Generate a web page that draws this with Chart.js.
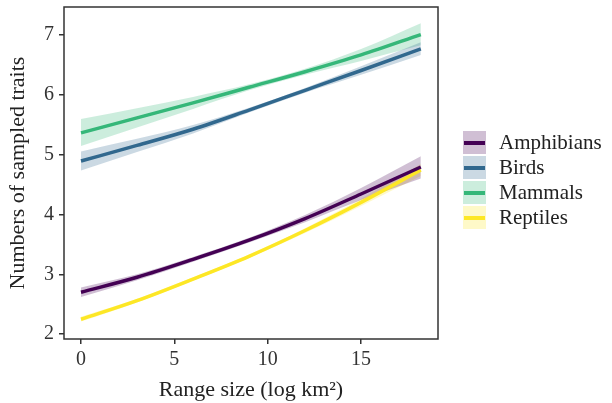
<!DOCTYPE html>
<html>
<head>
<meta charset="utf-8">
<script src="https://cdn.jsdelivr.net/npm/chart.js@4/dist/chart.umd.min.js"></script>
<style>
  body { margin: 0; background: #fff; }
  #wrap { position: relative; width: 612px; height: 403px; }
  #legend { position: absolute; left: 463px; top: 130px; font-family: "Liberation Serif", serif; font-size: 21px; color: #222; }
  .row { display: flex; align-items: center; height: 25px; }
  .key { position: relative; width: 23px; height: 23px; margin-right: 13px; }
  .key span { position: absolute; left: 1px; right: 1px; top: 10px; height: 3.5px; }
</style>
</head>
<body>
<div id="wrap">
  <canvas id="myChart" width="612" height="403"></canvas>
  <div id="legend"></div>
</div>
<script>
// range size (log km2) where the fitted curves were read
const rangeSize = [0, 3, 6, 9, 12, 15, 18.2];

const names = ["Amphibians", "Birds", "Mammals", "Reptiles"];
const colors = ["#440154", "#31688e", "#35b779", "#fde725"];
const bands = ["rgba(68,1,84,0.25)", "rgba(49,104,142,0.25)", "rgba(53,183,121,0.25)", "rgba(253,231,37,0.25)"];

// fitted values
const amphibians = [2.70, 2.95, 3.25, 3.57, 3.93, 4.34, 4.79];
const birds = [4.89, 5.15, 5.42, 5.74, 6.07, 6.40, 6.76];
const mammals = [5.36, 5.61, 5.86, 6.12, 6.38, 6.66, 7.00];
const reptiles = [2.25, 2.56, 2.92, 3.30, 3.73, 4.20, 4.74];

// confidence band edges
const amphibiansUpper = [2.78, 3.00, 3.29, 3.61, 3.99, 4.44, 4.97];
const amphibiansLower = [2.62, 2.90, 3.21, 3.53, 3.87, 4.24, 4.60];
const birdsUpper = [5.05, 5.26, 5.49, 5.78, 6.11, 6.47, 6.87];
const birdsLower = [4.73, 5.04, 5.35, 5.70, 6.03, 6.33, 6.66];
const mammalsUpper = [5.59, 5.77, 5.96, 6.17, 6.43, 6.76, 7.19];
const mammalsLower = [5.14, 5.45, 5.76, 6.07, 6.33, 6.56, 6.82];
const reptilesUpper = [2.29, 2.59, 2.95, 3.33, 3.77, 4.26, 4.84];
const reptilesLower = [2.21, 2.53, 2.89, 3.27, 3.69, 4.14, 4.64];

const xTicks = [0, 5, 10, 15];
const yTicks = [2, 3, 4, 5, 6, 7];

const fits = [amphibians, birds, mammals, reptiles];
const uppers = [amphibiansUpper, birdsUpper, mammalsUpper, reptilesUpper];
const lowers = [amphibiansLower, birdsLower, mammalsLower, reptilesLower];

const pts = (arr) => arr.map((v, i) => ({ x: rangeSize[i], y: v }));

const datasets = [];
// lines first so they sit on top
fits.forEach((arr, i) => {
  datasets.push({
    label: names[i],
    data: pts(arr),
    borderColor: colors[i],
    borderWidth: 3.5,
    pointRadius: 0,
    fill: false,
    order: 0,
  });
});
uppers.forEach((arr, i) => {
  datasets.push({
    label: names[i] + " upper",
    data: pts(arr),
    borderWidth: 0,
    pointRadius: 0,
    backgroundColor: bands[i],
    fill: "+1",
    order: 1,
  });
  datasets.push({
    label: names[i] + " lower",
    data: pts(lowers[i]),
    borderWidth: 0,
    pointRadius: 0,
    fill: false,
    order: 1,
  });
});

const frame = {
  id: "frame",
  afterDraw(chart) {
    const { ctx, chartArea: a } = chart;
    ctx.save();
    ctx.strokeStyle = "#333";
    ctx.lineWidth = 1.5;
    ctx.strokeRect(a.left, a.top, a.right - a.left, a.bottom - a.top);
    ctx.restore();
  },
};

const serif = "'Liberation Serif', 'Times New Roman', serif";

new Chart(document.getElementById("myChart").getContext("2d"), {
  type: "line",
  data: { datasets: datasets },
  plugins: [frame],
  options: {
    responsive: false,
    animation: false,
    cubicInterpolationMode: "monotone",
    layout: { padding: { top: 7, right: 174 } },
    plugins: { legend: { display: false }, tooltip: { enabled: false } },
    scales: {
      x: {
        type: "linear",
        min: -0.91,
        max: 19.12,
        afterBuildTicks: (s) => { s.ticks = xTicks.map((v) => ({ value: v })); },
        afterFit: (s) => { s.height = 64; s.paddingLeft = 0; s.paddingRight = 0; },
        border: { display: false },
        grid: { drawOnChartArea: false, tickLength: 5, color: "#333", lineWidth: 1.5 },
        ticks: { color: "#333", padding: 4, font: { family: serif, size: 20 } },
        title: { display: true, text: "Range size (log km²)", color: "#222", padding: 0, font: { family: serif, size: 22 } },
      },
      y: {
        min: 1.92,
        max: 7.46,
        afterBuildTicks: (s) => { s.ticks = yTicks.map((v) => ({ value: v })); },
        afterFit: (s) => { s.width = 64; s.paddingTop = 0; s.paddingBottom = 0; },
        border: { display: false },
        grid: { drawOnChartArea: false, tickLength: 5, color: "#333", lineWidth: 1.5 },
        ticks: { color: "#333", padding: 5, font: { family: serif, size: 20 } },
        title: { display: true, text: "Numbers of sampled traits", color: "#222", padding: { top: 5, bottom: 0 }, font: { family: serif, size: 22 } },
      },
    },
  },
});

const legend = document.getElementById("legend");
names.forEach((n, i) => {
  const row = document.createElement("div");
  row.className = "row";
  row.innerHTML = '<div class="key" style="background:' + bands[i] + '"><span style="background:' + colors[i] + '"></span></div>' + n;
  legend.appendChild(row);
});
</script>
</body>
</html>
